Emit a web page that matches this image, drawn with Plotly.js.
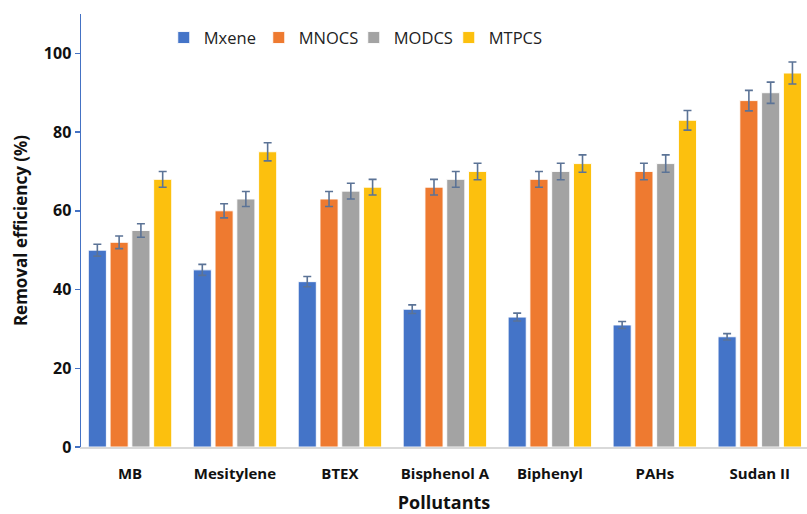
<!DOCTYPE html>
<html>
<head>
<meta charset="utf-8">
<script src="https://cdn.plot.ly/plotly-3.0.1.min.js"></script>
<style>html,body{margin:0;padding:0;background:#fff;}#chart{width:807px;height:514px;}</style>
</head>
<body>
<div id="chart"></div>
<script>
const categories = ["MB", "Mesitylene", "BTEX", "Bisphenol A", "Biphenyl", "PAHs", "Sudan II"];
const seriesNames = ["Mxene", "MNOCS", "MODCS", "MTPCS"];
const mxene = [50, 45, 42, 35, 33, 31, 28];
const mnocs = [52, 60, 63, 66, 68, 70, 88];
const modcs = [55, 63, 65, 68, 70, 72, 90];
const mtpcs = [68, 75, 66, 70, 72, 83, 95];
const mxeneErr = [1.5, 1.4, 1.3, 1.1, 1.0, 0.9, 0.8];
const mnocsErr = [1.6, 1.8, 1.9, 2.0, 2.0, 2.1, 2.6];
const modcsErr = [1.7, 1.9, 2.0, 2.0, 2.1, 2.2, 2.7];
const mtpcsErr = [2.0, 2.3, 2.0, 2.1, 2.2, 2.5, 2.8];
const yTicks = [0, 20, 40, 60, 80, 100];

const values = [mxene, mnocs, modcs, mtpcs];
const errs = [mxeneErr, mnocsErr, modcsErr, mtpcsErr];
const colors = ["#4474c8", "#ee7a30", "#a3a3a3", "#fcc00e"];

const traces = seriesNames.map((n, i) => ({
  type: "bar",
  name: n,
  x: categories,
  y: values[i],
  marker: {color: colors[i], line: {color: "rgba(255,255,255,0.9)", width: 1}},
  error_y: {type: "data", array: errs[i], visible: true, color: "#5b7396", thickness: 1.6, width: 4}
}));

const layout = {
  width: 807, height: 514,
  margin: {l: 81, r: 0, t: 14, b: 67},
  paper_bgcolor: "#ffffff", plot_bgcolor: "#ffffff",
  barmode: "group", bargap: 0.17, bargroupgap: 0.17,
  font: {family: "Open Sans, sans-serif", color: "#000"},
  showlegend: true,
  legend: {
    orientation: "h", x: 0.114, xanchor: "left", y: 0.945, yanchor: "middle",
    font: {size: 16.5, color: "#222"}, bgcolor: "rgba(0,0,0,0)",
    entrywidth: 50, entrywidthmode: "pixels", itemwidth: 30, traceorder: "normal"
  },
  xaxis: {
    range: [-0.467, 6.45],
    showline: true, linecolor: "#d9d9d9", linewidth: 1.5,
    ticks: "", showgrid: false, zeroline: false, ticklabelstandoff: 12,
    tickfont: {size: 15, family: "Open Sans, sans-serif", weight: "bold", color: "#111"},
    title: {text: "Pollutants", font: {size: 18, weight: "bold", color: "#111"}, standoff: 19}
  },
  yaxis: {
    range: [0, 110], tickvals: yTicks,
    showline: true, linecolor: "#4472c4", linewidth: 1.5,
    ticks: "outside", ticklen: 5, tickcolor: "#4472c4", tickwidth: 1.5,
    showgrid: false, zeroline: false,
    tickfont: {size: 16, weight: "bold", color: "#111"},
    title: {text: "Removal efficiency (%)", font: {size: 17, weight: "bold", color: "#111"}, standoff: 12}
  }
};

Plotly.newPlot("chart", traces, layout, {displayModeBar: false, staticPlot: true});
</script>
</body>
</html>
